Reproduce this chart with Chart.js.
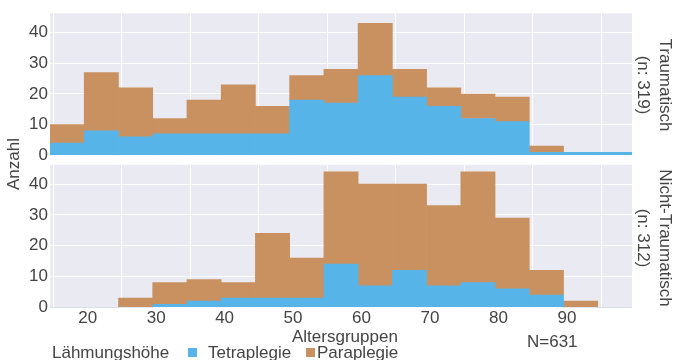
<!DOCTYPE html>
<html>
<head>
<meta charset="utf-8">
<script src="https://cdn.jsdelivr.net/npm/chart.js@4"></script>
<style>
  body { margin: 0; background: #fff; font-family: "Liberation Sans", Arial, sans-serif; color: #444; }
  #wrap { position: relative; width: 674px; height: 360px; overflow: hidden; }
  .panel { position: absolute; left: 0; width: 674px; }
  .lbl { position: absolute; font-size: 17px; line-height: 17px; white-space: nowrap; }
  .rot { position: absolute; font-size: 17px; line-height: 22px; text-align: center; white-space: nowrap; }
  .sq { position: absolute; width: 9px; height: 9px; }
</style>
</head>
<body>
<div id="wrap">
  <div class="panel" style="top:0;height:160px"><canvas id="traum"></canvas></div>
  <div class="panel" style="top:160px;height:200px"><canvas id="nontraum"></canvas></div>

  <div class="rot" style="left:-34px;top:153px;width:100px;height:22px;line-height:17px;transform:rotate(-90deg)">Anzahl</div>
  <div class="rot" style="left:584px;top:63px;width:140px;height:44px;transform:rotate(90deg)">Traumatisch<br>(n: 319)</div>
  <div class="rot" style="left:584px;top:216px;width:140px;height:44px;transform:rotate(90deg)">Nicht-Traumatisch<br>(n: 312)</div>

  <div class="lbl" style="left:292px;top:328px">Altersgruppen</div>
  <div class="lbl" style="left:527px;top:333px">N=631</div>
  <div class="lbl" style="left:52px;top:344px">Lähmungshöhe</div>
  <div class="sq" style="left:188px;top:348px;background:#56B4E9"></div>
  <div class="lbl" style="left:208px;top:344px">Tetraplegie</div>
  <div class="sq" style="left:306px;top:348px;background:#C9915F"></div>
  <div class="lbl" style="left:317px;top:344px">Paraplegie</div>
</div>

<script>
// bin centres of the 5-year age groups (bins 14.5-19.5, 19.5-24.5, ...)
const ageGroups = [17, 22, 27, 32, 37, 42, 47, 52, 57, 62, 67, 72, 77, 82, 87, 92, 97];

// Traumatisch
const traumTetra = [4, 8, 6, 7, 7, 7, 7, 18, 17, 26, 19, 16, 12, 11, 1, 1, 1];
const traumPara  = [6, 19, 16, 5, 11, 16, 9, 8, 11, 17, 9, 6, 8, 8, 2, 0, 0];

// Nicht-Traumatisch
const nonTraumTetra = [0, 0, 0, 1, 2, 3, 3, 3, 14, 7, 12, 7, 8, 6, 4, 0, 0];
const nonTraumPara  = [0, 0, 3, 7, 7, 5, 21, 13, 30, 33, 28, 26, 36, 23, 8, 2, 0];

const xTicks = [20, 30, 40, 50, 60, 70, 80, 90];
const yTicks = [0, 10, 20, 30, 40];

const FONT = { family: '"Liberation Sans", Arial, sans-serif', size: 17 };

const plotBg = {
  id: 'plotBg',
  beforeDraw(chart) {
    const { ctx, chartArea: a } = chart;
    ctx.save();
    ctx.fillStyle = '#EAEAF2';
    ctx.fillRect(a.left, a.top, a.right - a.left, a.bottom - a.top);
    ctx.restore();
  }
};

function makePanel(id, tetra, para, opts) {
  return new Chart(document.getElementById(id), {
    type: 'bar',
    data: {
      datasets: [
        {
          label: 'Tetraplegie',
          data: ageGroups.map((x, i) => ({ x: x, y: tetra[i] })),
          backgroundColor: '#56B4E9',
          barPercentage: 1,
          categoryPercentage: 1
        },
        {
          label: 'Paraplegie',
          data: ageGroups.map((x, i) => ({ x: x, y: para[i] })),
          backgroundColor: '#C9915F',
          barPercentage: 1,
          categoryPercentage: 1
        }
      ]
    },
    options: {
      responsive: true,
      maintainAspectRatio: false,
      animation: false,
      layout: { padding: opts.padding },
      plugins: { legend: { display: false }, tooltip: { enabled: false } },
      scales: {
        x: {
          type: 'linear',
          min: 14.5,
          max: 99.5,
          stacked: true,
          offset: false,
          afterBuildTicks: s => { s.ticks = xTicks.map(v => ({ value: v })); },
          afterFit: s => {
            s.height = opts.xHeight;
            s.paddingLeft = 0; s.paddingRight = 0;
          },
          grid: { color: '#fff', lineWidth: 1, drawTicks: false },
          border: { display: false },
          ticks: { display: opts.xLabels, color: '#444', font: FONT, padding: 1, maxRotation: 0 }
        },
        y: {
          min: 0,
          max: 46.3,
          stacked: true,
          afterBuildTicks: s => { s.ticks = yTicks.map(v => ({ value: v })); },
          afterFit: s => {
            s.width = 50;
            s.paddingTop = 0; s.paddingBottom = 0;
          },
          grid: { color: '#fff', lineWidth: 1, drawTicks: false },
          border: { display: false },
          ticks: { color: '#444', font: FONT, padding: 2 }
        }
      }
    },
    plugins: [plotBg]
  });
}

makePanel('traum', traumTetra, traumPara, {
  padding: { left: 0, right: 42, top: 13.3, bottom: 4.7 },
  xHeight: 0,
  xLabels: false
});

makePanel('nontraum', nonTraumTetra, nonTraumPara, {
  padding: { left: 0, right: 42, top: 4.7, bottom: 0 },
  xHeight: 52.7,
  xLabels: true
});
</script>
</body>
</html>
